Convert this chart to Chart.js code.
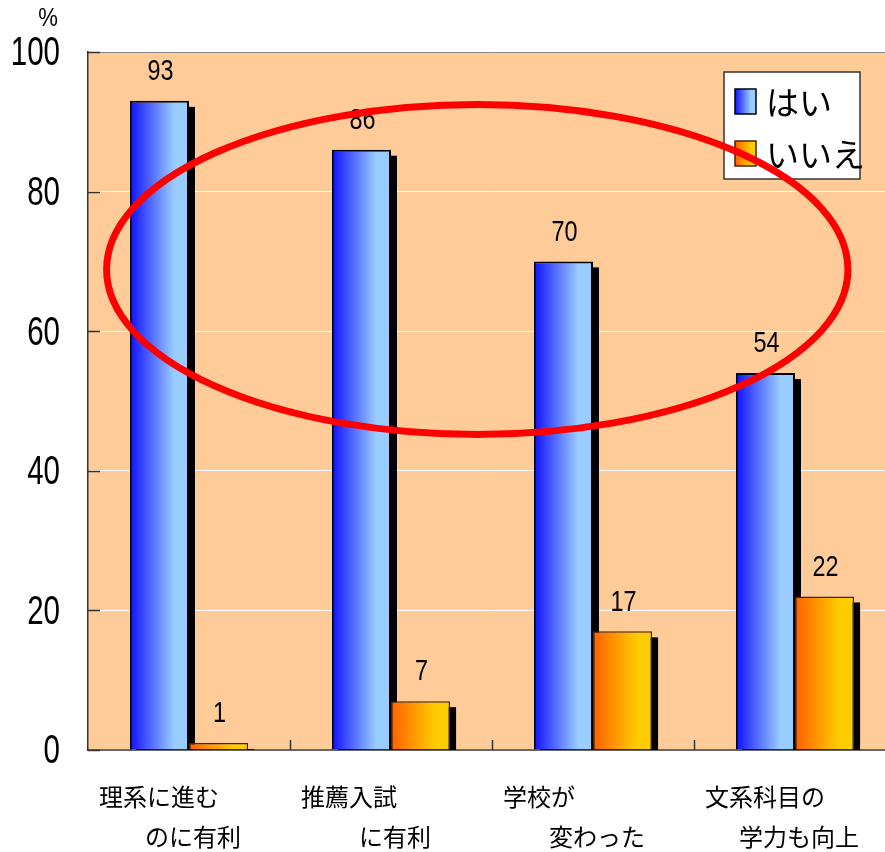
<!DOCTYPE html>
<html><head><meta charset="utf-8">
<script src="https://cdn.jsdelivr.net/npm/chart.js@4.4.1/dist/chart.umd.min.js"></script>
<style>
html,body{margin:0;padding:0;background:#fff;overflow:hidden;width:885px;height:852px}
#wrap{position:absolute;left:0;top:0;width:896px;height:852px}
</style>
</head><body><div id="wrap"><canvas id="c"></canvas></div>
<script>
// ---- data ----
const categoriesLine1 = ['理系に進む', '推薦入試', '学校が', '文系科目の'];
const categoriesLine2 = ['のに有利', 'に有利', '変わった', '学力も向上'];
const seriesNames = ['はい', 'いいえ'];
const yesValues = [93, 86, 70, 54];
const noValues = [1, 7, 17, 22];
const yTicks = [0, 20, 40, 60, 80, 100];
const unitLabel = '%';
// highlight ellipse (data units: category index / percent)
const ellipseCenter = [1.427, 68.84];
const ellipseRadii = [1.835, 23.64];

const SANS = "'Liberation Sans',Arial,sans-serif";
const CJK = "'Noto Sans CJK JP','Noto Sans',sans-serif";
const gradStops = [['#1010ff', '#99ccff'], ['#ff6000', '#ffcc00']];
const borderCols = ['#000000', '#4a2000'];

function makeGrad(ctx, l, r, di) {
  const g = ctx.createLinearGradient(l, 0, r, 0);
  g.addColorStop(0, gradStops[di][0]);
  g.addColorStop(0.75, gradStops[di][1]);
  g.addColorStop(1, gradStops[di][1]);
  return g;
}
// draw horizontally condensed text
function narrowText(ctx, text, x, y, size, sx, align, baseline) {
  ctx.save();
  ctx.font = size + 'px ' + SANS;
  ctx.textAlign = align;
  ctx.textBaseline = baseline;
  ctx.translate(x, y);
  ctx.scale(sx, 1);
  ctx.fillText(text, 0, 0);
  ctx.restore();
}

const deco = {
  id: 'deco',
  beforeDraw(chart) {
    const { ctx, chartArea: a } = chart;
    ctx.save();
    ctx.fillStyle = '#FFCC99';
    ctx.fillRect(a.left, a.top, a.right - a.left, a.bottom - a.top);
    ctx.restore();
  },
  beforeDatasetsDraw(chart) {
    const { ctx, chartArea: a } = chart;
    chart.data.datasets.forEach((ds, di) => {
      const meta = chart.getDatasetMeta(di);
      meta.data.forEach(el => {
        const l = el.x - el.width / 2, r = el.x + el.width / 2;
        ctx.save();
        ctx.beginPath();
        ctx.rect(a.left, a.top, a.right - a.left, a.bottom - a.top);
        ctx.clip();
        ctx.fillStyle = '#000';
        ctx.fillRect(l + 6, el.y + 6, el.width, el.base - el.y);
        ctx.restore();
        el.options.backgroundColor = makeGrad(ctx, l, r, di);
      });
    });
  },
  afterDraw(chart) {
    const { ctx, chartArea: a, scales } = chart;
    const xs = scales.x, ys = scales.y;
    ctx.save();
    // inward ticks on y axis
    ctx.strokeStyle = '#333';
    ctx.lineWidth = 1.5;
    yTicks.forEach(v => {
      const y = Math.round(ys.getPixelForValue(v)) + 0.5;
      ctx.beginPath(); ctx.moveTo(a.left, y); ctx.lineTo(a.left + 12, y); ctx.stroke();
    });
    // inward ticks on x axis (category boundaries)
    const cw = (a.right - a.left) / categoriesLine1.length;
    for (let i = 1; i < categoriesLine1.length; i++) {
      const x = Math.round(xs.getPixelForValue(i) - cw / 2) + 0.5;
      ctx.beginPath(); ctx.moveTo(x, a.bottom); ctx.lineTo(x, a.bottom - 10); ctx.stroke();
    }
    ctx.fillStyle = '#000';
    // y tick labels (condensed)
    yTicks.forEach(v => {
      narrowText(ctx, String(v), a.left - 28, ys.getPixelForValue(v) + 2, 41, 0.72, 'right', 'middle');
    });
    // value labels
    chart.data.datasets.forEach((ds, di) => {
      chart.getDatasetMeta(di).data.forEach((el, i) => {
        narrowText(ctx, String(ds.data[i]), el.x + 1, el.y - 14, 30, 0.78, 'center', 'bottom');
      });
    });
    // unit label
    narrowText(ctx, unitLabel, a.left - 40, a.top - 33, 26, 0.85, 'center', 'middle');
    // category labels (two lines)
    ctx.font = '24px ' + CJK;
    ctx.textBaseline = 'middle';
    categoriesLine1.forEach((t, i) => {
      const cx = xs.getPixelForValue(i);
      ctx.textAlign = 'left';
      ctx.fillText(t, cx - 90, a.bottom + 47);
      ctx.textAlign = 'center';
      ctx.fillText(categoriesLine2[i], cx + 4, a.bottom + 87);
    });
    // legend
    const lx = a.right - 172, ly = a.top + 20, lw = 136, lh = 107;
    ctx.fillStyle = '#fff';
    ctx.fillRect(lx, ly, lw, lh);
    ctx.strokeStyle = '#333';
    ctx.lineWidth = 1.5;
    ctx.strokeRect(lx, ly, lw, lh);
    ctx.font = '33px ' + CJK;
    ctx.textAlign = 'left';
    seriesNames.forEach((n, di) => {
      const sy = ly + 17 + di * 52;
      ctx.fillStyle = makeGrad(ctx, lx + 11, lx + 32, di);
      ctx.fillRect(lx + 11, sy, 21, 25);
      ctx.strokeStyle = borderCols[di];
      ctx.lineWidth = 1.5;
      ctx.strokeRect(lx + 11, sy, 21, 25);
      ctx.fillStyle = '#000';
      ctx.fillText(n, lx + 42, sy + 13);
    });
    // highlight ellipse
    const ecx = xs.getPixelForValue(ellipseCenter[0]);
    const ecy = ys.getPixelForValue(ellipseCenter[1]);
    const erx = xs.getPixelForValue(ellipseCenter[0] + ellipseRadii[0]) - ecx;
    const ery = ecy - ys.getPixelForValue(ellipseCenter[1] + ellipseRadii[1]);
    ctx.strokeStyle = '#ff0000';
    ctx.lineWidth = 7;
    ctx.beginPath();
    ctx.ellipse(ecx, ecy, erx, ery, 0, 0, Math.PI * 2);
    ctx.stroke();
    ctx.restore();
  }
};

new Chart(document.getElementById('c'), {
  type: 'bar',
  data: {
    labels: categoriesLine1.map((t, i) => t + categoriesLine2[i]),
    datasets: [
      { label: seriesNames[0], data: yesValues, backgroundColor: () => '#6688ff',
        borderColor: borderCols[0], borderWidth: 2, borderSkipped: 'bottom',
        categoryPercentage: 0.585, barPercentage: 1 },
      { label: seriesNames[1], data: noValues, backgroundColor: () => '#ff9900',
        borderColor: borderCols[1], borderWidth: 1.5, borderSkipped: 'bottom',
        categoryPercentage: 0.585, barPercentage: 1 }
    ]
  },
  options: {
    responsive: true,
    maintainAspectRatio: false,
    animation: false,
    layout: { padding: { top: 52, left: 0, right: 0, bottom: 0 } },
    plugins: { legend: { display: false }, tooltip: { enabled: false } },
    scales: {
      x: {
        grid: { display: false },
        border: { color: '#666', width: 2 },
        ticks: { display: false },
        afterFit: s => { s.height = 102; }
      },
      y: {
        min: 0, max: 100,
        afterBuildTicks: s => { s.ticks = yTicks.map(v => ({ value: v })); },
        ticks: { display: false },
        grid: {
          drawTicks: false,
          color: c => c.tick && c.tick.value === 100 ? '#888' : (c.tick && c.tick.value === 0 ? 'rgba(0,0,0,0)' : '#ffffff'),
          lineWidth: 1
        },
        border: { color: '#333', width: 1.5 },
        afterFit: s => { s.width = 88; }
      }
    }
  },
  plugins: [deco]
});
</script>
</body></html>
